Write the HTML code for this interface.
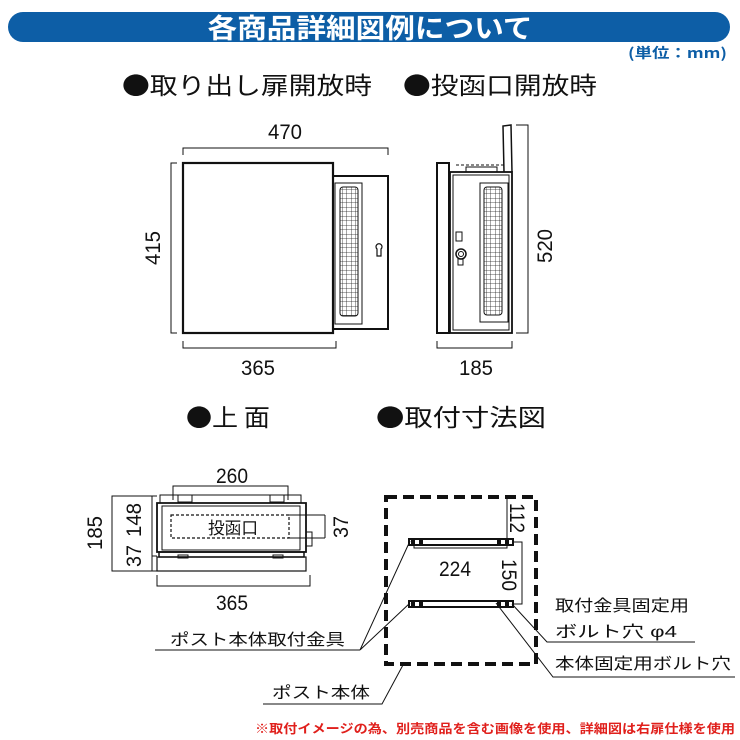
<!DOCTYPE html>
<html><head><meta charset="utf-8"><style>html,body{margin:0;padding:0;background:#fff}svg{display:block}</style></head>
<body>
<svg width="740" height="740" viewBox="0 0 740 740" xmlns="http://www.w3.org/2000/svg" font-family="Liberation Sans, Noto Sans CJK JP, sans-serif">
<defs>
<pattern id="g" width="4.5" height="4.5" patternUnits="userSpaceOnUse"><path d="M0 0H4.5M0 0V4.5" stroke="#222" stroke-width="0.8" fill="none"/></pattern>
</defs>
<rect x="8" y="12" width="722" height="30" rx="15" fill="#0d5ea6"/>
<text x="370" y="38" text-anchor="middle" font-size="27" font-weight="bold" fill="#fff" textLength="325" lengthAdjust="spacingAndGlyphs" font-family="Noto Sans CJK JP, sans-serif">各商品詳細図例について</text>
<text x="727" y="58" text-anchor="end" font-size="14" font-weight="bold" fill="#0d5ea6" textLength="99" lengthAdjust="spacingAndGlyphs" font-family="Noto Sans CJK JP, sans-serif">(単位：mm)</text>
<g font-family="Noto Sans CJK JP, sans-serif" font-size="24" fill="#111">
<text x="122" y="94" textLength="250" lengthAdjust="spacingAndGlyphs">●取り出し扉開放時</text>
<text x="403" y="94" textLength="194" lengthAdjust="spacingAndGlyphs">●投函口開放時</text>
<text x="186" y="426" textLength="84" lengthAdjust="spacingAndGlyphs">●上 面</text>
<text x="376" y="426" textLength="170" lengthAdjust="spacingAndGlyphs">●取付寸法図</text>
</g>
<g fill="none" stroke="#111" stroke-width="1">
<rect x="333" y="176" width="55" height="153" stroke-width="2"/>
<rect x="335" y="183" width="27" height="141"/>
<rect x="340" y="187" width="18" height="129" rx="3" fill="url(#g)"/>
<rect x="183" y="163" width="150" height="170" stroke-width="2.2" fill="#fff"/>
<path d="M377 249a3 3 0 1 1 4 0v7h-4z" stroke-width="1.2"/>
<path d="M183 155V148H388V155M177 163H171V333H177M183 341V348H336V341"/>
<rect x="437" y="163" width="12" height="170" stroke-width="2"/>
<rect x="450" y="172" width="62" height="161" stroke-width="1.8"/>
<rect x="453" y="175" width="56" height="155"/>
<path d="M466 172V167H497V172"/>
<path d="M456 165H504" stroke-dasharray="3,2"/>
<path d="M504 172L503 126L511 125L512 172" stroke-width="1.5"/>
<rect x="480" y="183" width="28" height="139"/>
<rect x="484" y="187" width="18" height="128" rx="3" fill="url(#g)"/>
<rect x="456" y="232" width="6" height="9"/>
<circle cx="461" cy="254" r="5" stroke-width="1.5"/>
<circle cx="461" cy="254" r="2.5"/>
<path d="M458 258v7h5v-7"/>
<path d="M516 125H528V333H516M437 341V348H512V341"/>
<rect x="160" y="495" width="141" height="8"/>
<path d="M157 503H306V552H157Z" stroke-width="1.8"/>
<rect x="162" y="506" width="138" height="44"/>
<rect x="157" y="557" width="149" height="14" stroke-width="1.2"/>
<path d="M159 552H304V557H159Z" stroke-width="1.5"/>
<rect x="306" y="532" width="6" height="14"/>
<rect x="178" y="495" width="14" height="7"/><rect x="270" y="495" width="14" height="7"/>
<rect x="178" y="555" width="10" height="3"/><rect x="273" y="555" width="10" height="3"/>
<rect x="171" y="515" width="118" height="23" stroke-dasharray="3,2" stroke-width="1.2"/>
<path d="M173 500V486H288V500"/>
<path d="M289 515H325M289 538H325M325 515V538"/>
<path d="M157 496H112V571H157M152 496V571M152 556H157"/>
<path d="M157 575V586H310V575"/>
<rect x="386" y="497" width="150" height="167" stroke-width="4" stroke-dasharray="11,6"/>
<rect x="409" y="539" width="104" height="6" stroke-width="2" fill="#fff"/>
<rect x="409" y="601" width="104" height="6" stroke-width="2" fill="#fff"/>
<path d="M414 545V548H507V545M507 497V539M513 542H522V604H513"/>
<path d="M360 650L410 541M360 650L410 603M155 650H360"/>
<path d="M263 704H382L403 665"/>
<path d="M512 604L547 642H695M496 603L553 677H735"/>
</g>
<g fill="#111">
<rect x="411" y="540" width="4" height="4"/><rect x="419" y="540" width="4" height="4"/><rect x="497" y="540" width="4" height="4"/><rect x="505" y="540" width="4" height="4"/>
<rect x="411" y="602" width="4" height="4"/><rect x="419" y="602" width="4" height="4"/><rect x="497" y="602" width="4" height="4"/><rect x="505" y="602" width="4" height="4"/>
</g>
<g font-family="Liberation Sans, sans-serif" font-size="21" fill="#111" text-anchor="middle">
<text x="285" y="139" textLength="34" lengthAdjust="spacingAndGlyphs">470</text>
<text x="258" y="375" textLength="34" lengthAdjust="spacingAndGlyphs">365</text>
<text x="476" y="375" textLength="34" lengthAdjust="spacingAndGlyphs">185</text>
<text transform="translate(160,248) rotate(-90)" textLength="34" lengthAdjust="spacingAndGlyphs">415</text>
<text transform="translate(552,246) rotate(-90)" textLength="34" lengthAdjust="spacingAndGlyphs">520</text>
<text x="232" y="483" textLength="32" lengthAdjust="spacingAndGlyphs">260</text>
<text x="232" y="610" textLength="32" lengthAdjust="spacingAndGlyphs">365</text>
<text transform="translate(102,533) rotate(-90)" textLength="34" lengthAdjust="spacingAndGlyphs">185</text>
<text transform="translate(141,520) rotate(-90)" textLength="34" lengthAdjust="spacingAndGlyphs">148</text>
<text transform="translate(141,556) rotate(-90)" textLength="22" lengthAdjust="spacingAndGlyphs">37</text>
<text transform="translate(348,527) rotate(-90)" textLength="22" lengthAdjust="spacingAndGlyphs">37</text>
<text x="455" y="576" textLength="32" lengthAdjust="spacingAndGlyphs">224</text>
<text transform="translate(510,518) rotate(90)" textLength="30" lengthAdjust="spacingAndGlyphs">112</text>
<text transform="translate(502,575) rotate(90)" textLength="32" lengthAdjust="spacingAndGlyphs">150</text>
</g>
<g font-family="Liberation Sans, Noto Sans CJK JP, sans-serif" font-size="16" fill="#111">
<text x="208" y="534" font-size="17" textLength="50" lengthAdjust="spacingAndGlyphs">投函口</text>
<text x="555" y="611" textLength="134" lengthAdjust="spacingAndGlyphs">取付金具固定用</text>
<text x="555" y="637" textLength="122" lengthAdjust="spacingAndGlyphs">ボルト穴 φ4</text>
<text x="555" y="669" textLength="176" lengthAdjust="spacingAndGlyphs">本体固定用ボルト穴</text>
<text x="170" y="645" textLength="175" lengthAdjust="spacingAndGlyphs">ポスト本体取付金具</text>
<text x="272" y="698" textLength="98" lengthAdjust="spacingAndGlyphs">ポスト本体</text>
</g>
<text x="735" y="733" text-anchor="end" font-size="12.5" font-weight="bold" fill="#e0201c" textLength="480" lengthAdjust="spacingAndGlyphs" font-family="Noto Sans CJK JP, sans-serif">※取付イメージの為、別売商品を含む画像を使用、詳細図は右扉仕様を使用</text>
</svg>
</body></html>
